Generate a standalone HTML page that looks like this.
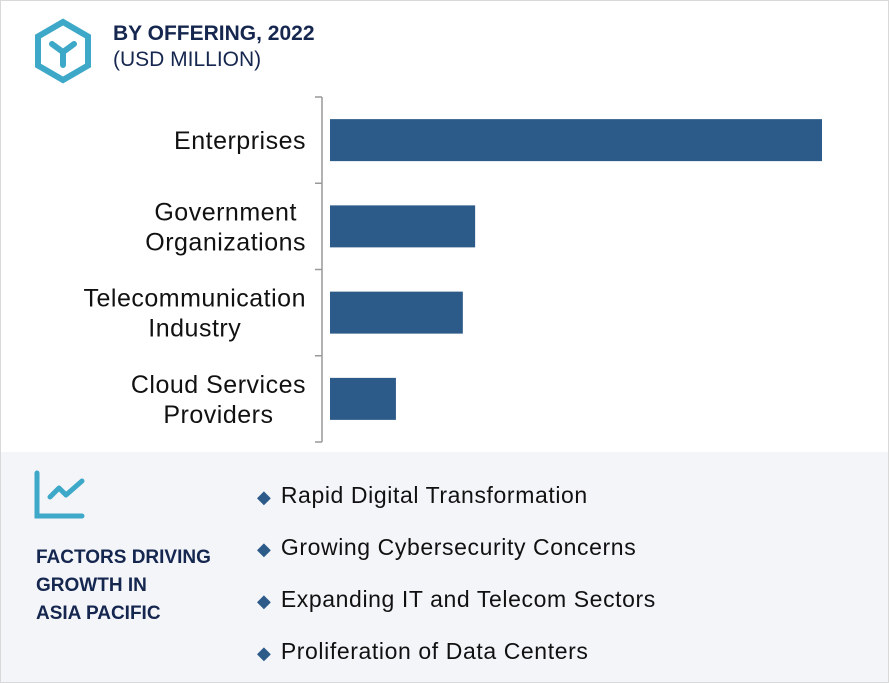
<!DOCTYPE html>
<html><head><meta charset="utf-8"><style>
body{margin:0;width:889px;height:683px;background:#fff;font-family:"Liberation Sans",sans-serif;overflow:hidden;position:relative}
.frame{position:absolute;left:0;top:0;width:887px;height:681px;border:1px solid #d9d9d9}
.t1{position:absolute;left:113px;top:22px;font-size:21px;font-weight:bold;color:#15264f}
.t2{position:absolute;left:113px;top:48px;font-size:21px;color:#15264f}
.bottom{position:absolute;left:1px;top:452px;width:887px;height:230px;background:#f3f5f9}
.fac{position:absolute;left:36px;top:544px;font-size:19px;font-weight:bold;color:#15264f;line-height:28px}
.item{position:absolute;left:257px;font-size:23px;letter-spacing:0.6px;color:#111}
.item span{color:#2d5b89;font-size:18px;margin-right:10px;letter-spacing:0}
</style></head><body>
<div class="frame"></div>
<svg style="position:absolute;left:33px;top:18px" width="60" height="66">
<polygon points="30,4 55,18.5 55,47.5 30,62 5,47.5 5,18.5" fill="none" stroke="#3ea8c8" stroke-width="6"/>
<path d="M19,26 L30,34 L41,26 M30,34 L30,47" fill="none" stroke="#3ea8c8" stroke-width="6" stroke-linecap="round"/>
</svg>
<div class="t1">BY OFFERING, 2022</div>
<div class="t2">(USD MILLION)</div>
<svg id="chart" style="position:absolute;left:0;top:0" width="889" height="452"></svg>
<div class="bottom"></div>
<svg style="position:absolute;left:34px;top:470px" width="52" height="50">
<path d="M3,3 L3,46 L48,46" fill="none" stroke="#3ea8c8" stroke-width="5" stroke-linecap="round"/>
<path d="M16,27 L25,18 L32,25 L48,11" fill="none" stroke="#3ea8c8" stroke-width="5" stroke-linecap="round" stroke-linejoin="round"/>
</svg>
<div class="fac">FACTORS DRIVING<br>GROWTH IN<br>ASIA PACIFIC</div>
<div class="item" style="top:482px"><span>◆</span>Rapid Digital Transformation</div>
<div class="item" style="top:534px"><span>◆</span>Growing Cybersecurity Concerns</div>
<div class="item" style="top:586px"><span>◆</span>Expanding IT and Telecom Sectors</div>
<div class="item" style="top:638px"><span>◆</span>Proliferation of Data Centers</div>
<script>
const categories=[["Enterprises"],["Government","Organizations"],["Telecommunication","Industry"],["Cloud Services","Providers"]];
const values=[100,29.5,27,13.4];
const svg=document.getElementById('chart');
const NS='http://www.w3.org/2000/svg';
const x0=330,xMax=100,wMax=492,top0=97,band=86.25;
const xs=v=>v/xMax*wMax;
function mk(t,a){const e=document.createElementNS(NS,t);for(const k in a)e.setAttribute(k,a[k]);svg.appendChild(e);return e;}
const ax=mk('line',{x1:322,y1:top0,x2:322,y2:top0+band*4,stroke:'#999','stroke-width':1.5});


for(let i=0;i<=4;i++){const t=mk('line',{x1:315,x2:322,y1:top0+band*i,y2:top0+band*i,stroke:'#999','stroke-width':1.5});

}
categories.forEach((c,i)=>{
const cy=top0+band*i+band/2;
const r=mk('rect',{x:x0,y:cy-21,width:xs(values[i]),height:42,fill:'#2d5b89'});


const n=c.length;
const texts=c.map((line,j)=>{
const t=mk('text',{x:0,y:cy+9+(j-(n-1)/2)*30,'text-anchor':'middle','font-size':25,'letter-spacing':0.5,fill:'#111','font-family':'Liberation Sans, sans-serif'});
t.textContent=line;


return t;
});
const w=Math.max(...texts.map(t=>t.getComputedTextLength()));
texts.forEach(t=>t.setAttribute('x',306-w/2));
});
</script>
</body></html>
